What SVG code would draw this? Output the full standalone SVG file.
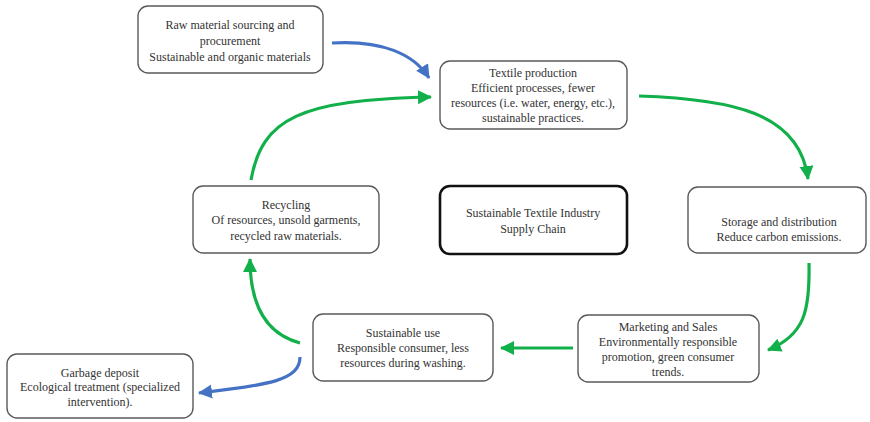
<svg xmlns="http://www.w3.org/2000/svg" width="870" height="422" viewBox="0 0 870 422">
  <style>
    .box { fill: #ffffff; stroke: #5a5a5a; stroke-width: 1.4; }
    .hub { fill: #ffffff; stroke: #111111; stroke-width: 2.6; }
    .lbl { font-size: 12px; fill: #333333; text-anchor: middle; }
    .g { fill: none; stroke: #12b04a; stroke-width: 3.2; }
    .b { fill: none; stroke: #4472c4; stroke-width: 3.2; }
  </style>
  <defs>
    <marker id="ag" markerUnits="userSpaceOnUse" markerWidth="16" markerHeight="16" refX="13" refY="7" orient="auto">
      <path d="M0,0 L14,7 L0,14 z" fill="#12b04a"/>
    </marker>
    <marker id="ab" markerUnits="userSpaceOnUse" markerWidth="16" markerHeight="16" refX="13" refY="7" orient="auto">
      <path d="M0,0 L14,7 L0,14 z" fill="#4472c4"/>
    </marker>
  </defs>

  <g id="connectors">
    <path class="b" d="M332,43 C382,40 414,54 429,78" marker-end="url(#ab)"/>
    <path class="g" d="M251,180 C262,118 300,100 431,97" marker-end="url(#ag)"/>
    <path class="g" d="M639,96 C730,99 800,112 808,179" marker-end="url(#ag)"/>
    <path class="g" d="M809,263 C810,310 805,335 768,350" marker-end="url(#ag)"/>
    <path class="g" d="M573,348 L501,348" marker-end="url(#ag)"/>
    <path class="g" d="M300,343 C262,333 250,300 250,259" marker-end="url(#ag)"/>
    <path class="b" d="M300,357 C300,380 270,385 199,393" marker-end="url(#ab)"/>
  </g>

  <g font-family="'Liberation Serif', 'Times New Roman', 'DejaVu Serif', serif">
  <g id="raw-material">
    <rect class="box" x="138" y="6" width="185" height="67" rx="10"/>
    <text class="lbl" x="230" y="29">Raw material sourcing and</text>
    <text class="lbl" x="230" y="45">procurement</text>
    <text class="lbl" x="230" y="61">Sustainable and organic materials</text>
  </g>

  <g id="textile-production">
    <rect class="box" x="440" y="61" width="187" height="68" rx="10"/>
    <text class="lbl" x="533" y="77">Textile production</text>
    <text class="lbl" x="533" y="92">Efficient processes, fewer</text>
    <text class="lbl" x="533" y="107">resources (i.e. water, energy, etc.),</text>
    <text class="lbl" x="533" y="122">sustainable practices.</text>
  </g>

  <g id="recycling">
    <rect class="box" x="193" y="186" width="186" height="67" rx="10"/>
    <text class="lbl" x="286" y="209">Recycling</text>
    <text class="lbl" x="286" y="224">Of resources, unsold garments,</text>
    <text class="lbl" x="286" y="240">recycled raw materials.</text>
  </g>

  <g id="supply-chain">
    <rect class="hub" x="440" y="186" width="187" height="68" rx="10"/>
    <text class="lbl" x="533" y="217">Sustainable Textile Industry</text>
    <text class="lbl" x="533" y="233">Supply Chain</text>
  </g>

  <g id="storage">
    <rect class="box" x="688" y="187" width="178" height="66" rx="10"/>
    <text class="lbl" x="779" y="226">Storage and distribution</text>
    <text class="lbl" x="779" y="241">Reduce carbon emissions.</text>
  </g>

  <g id="sustainable-use">
    <rect class="box" x="313" y="314" width="180" height="67" rx="10"/>
    <text class="lbl" x="403" y="337">Sustainable use</text>
    <text class="lbl" x="403" y="352">Responsible consumer, less</text>
    <text class="lbl" x="403" y="367">resources during washing.</text>
  </g>

  <g id="marketing">
    <rect class="box" x="578" y="315" width="181" height="67" rx="10"/>
    <text class="lbl" x="668" y="331">Marketing and Sales</text>
    <text class="lbl" x="668" y="346">Environmentally responsible</text>
    <text class="lbl" x="668" y="361">promotion, green consumer</text>
    <text class="lbl" x="668" y="376">trends.</text>
  </g>

  <g id="garbage">
    <rect class="box" x="7" y="354" width="186" height="64" rx="10"/>
    <text class="lbl" x="100" y="377">Garbage deposit</text>
    <text class="lbl" x="100" y="391">Ecological treatment (specialized</text>
    <text class="lbl" x="100" y="406">intervention).</text>
  </g>
  </g>
</svg>
